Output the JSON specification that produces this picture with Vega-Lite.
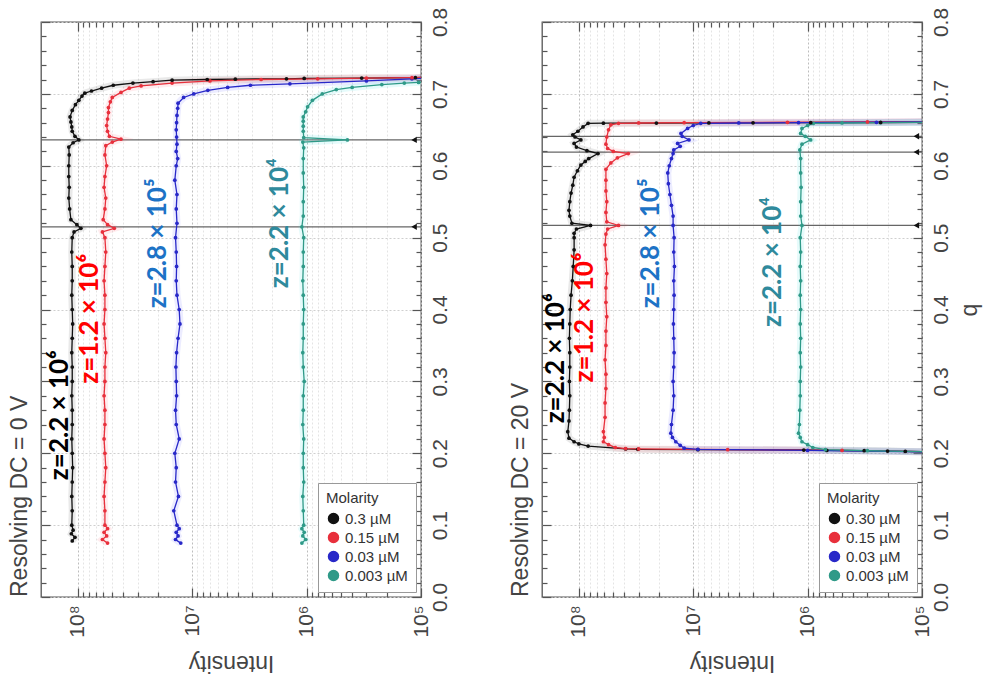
{
  "$schema": "https://vega.github.io/schema/vega-lite/v6.json",
  "background": "white",
  "padding": {"left": 8, "top": 6, "right": 4, "bottom": 2},
  "config": {
    "font": "Liberation Sans",
    "view": {"stroke": "#555", "strokeWidth": 1.3},
    "axis": {"labelColor": "#444", "titleColor": "#444", "titleFontWeight": "normal"},
    "title": {"color": "#444", "fontWeight": "normal", "fontSize": 23, "font": "Liberation Sans"}
  },
  "datasets": {
    "a": [
      {"m":"0.3 µM","q":0.078,"i":1.12e8},{"m":"0.3 µM","q":0.083,"i":1.06e8},{"m":"0.3 µM","q":0.088,"i":1.14e8},{"m":"0.3 µM","q":0.093,"i":1.10e8},{"m":"0.3 µM","q":0.1,"i":1.13e8},{"m":"0.3 µM","q":0.12,"i":1.12e8},{"m":"0.3 µM","q":0.14,"i":1.13e8},{"m":"0.3 µM","q":0.16,"i":1.12e8},{"m":"0.3 µM","q":0.18,"i":1.11e8},{"m":"0.3 µM","q":0.2,"i":1.12e8},{"m":"0.3 µM","q":0.22,"i":1.13e8},{"m":"0.3 µM","q":0.24,"i":1.12e8},{"m":"0.3 µM","q":0.26,"i":1.12e8},{"m":"0.3 µM","q":0.28,"i":1.13e8},{"m":"0.3 µM","q":0.3,"i":1.12e8},{"m":"0.3 µM","q":0.32,"i":1.12e8},{"m":"0.3 µM","q":0.34,"i":1.13e8},{"m":"0.3 µM","q":0.36,"i":1.12e8},{"m":"0.3 µM","q":0.38,"i":1.11e8},{"m":"0.3 µM","q":0.4,"i":1.12e8},{"m":"0.3 µM","q":0.42,"i":1.13e8},{"m":"0.3 µM","q":0.44,"i":1.12e8},{"m":"0.3 µM","q":0.46,"i":1.12e8},{"m":"0.3 µM","q":0.48,"i":1.13e8},{"m":"0.3 µM","q":0.5,"i":1.12e8},{"m":"0.3 µM","q":0.508,"i":1.08e8},{"m":"0.3 µM","q":0.513,"i":9.4e7},{"m":"0.3 µM","q":0.518,"i":1.02e8},{"m":"0.3 µM","q":0.525,"i":1.15e8},{"m":"0.3 µM","q":0.54,"i":1.18e8},{"m":"0.3 µM","q":0.555,"i":1.2e8},{"m":"0.3 µM","q":0.57,"i":1.19e8},{"m":"0.3 µM","q":0.585,"i":1.2e8},{"m":"0.3 µM","q":0.6,"i":1.2e8},{"m":"0.3 µM","q":0.615,"i":1.19e8},{"m":"0.3 µM","q":0.626,"i":1.2e8},{"m":"0.3 µM","q":0.632,"i":1.1e8},{"m":"0.3 µM","q":0.636,"i":9.8e7},{"m":"0.3 µM","q":0.641,"i":1.06e8},{"m":"0.3 µM","q":0.648,"i":1.12e8},{"m":"0.3 µM","q":0.654,"i":1.13e8},{"m":"0.3 µM","q":0.661,"i":1.15e8},{"m":"0.3 µM","q":0.668,"i":1.17e8},{"m":"0.3 µM","q":0.677,"i":1.12e8},{"m":"0.3 µM","q":0.685,"i":1.05e8},{"m":"0.3 µM","q":0.691,"i":9.8e7},{"m":"0.3 µM","q":0.697,"i":9.2e7},{"m":"0.3 µM","q":0.701,"i":8.7e7},{"m":"0.3 µM","q":0.704,"i":7.6e7},{"m":"0.3 µM","q":0.708,"i":6.2e7},{"m":"0.3 µM","q":0.712,"i":4.9e7},{"m":"0.3 µM","q":0.715,"i":3.3e7},{"m":"0.3 µM","q":0.717,"i":2.2e7},{"m":"0.3 µM","q":0.719,"i":1.5e7},{"m":"0.3 µM","q":0.72,"i":7.4e6},{"m":"0.3 µM","q":0.7205,"i":4.2e6},{"m":"0.3 µM","q":0.721,"i":1.5e6},{"m":"0.3 µM","q":0.7215,"i":1.05e6},{"m":"0.3 µM","q":0.722,"i":3.3e5},{"m":"0.3 µM","q":0.7225,"i":1.12e5},{"m":"0.3 µM","q":0.723,"i":9e4},

      {"m":"0.15 µM","q":0.075,"i":5.5e7},{"m":"0.15 µM","q":0.08,"i":6.1e7},{"m":"0.15 µM","q":0.085,"i":5.6e7},{"m":"0.15 µM","q":0.09,"i":5.9e7},{"m":"0.15 µM","q":0.095,"i":5.5e7},{"m":"0.15 µM","q":0.1,"i":5.8e7},{"m":"0.15 µM","q":0.12,"i":5.8e7},{"m":"0.15 µM","q":0.14,"i":5.9e7},{"m":"0.15 µM","q":0.16,"i":5.8e7},{"m":"0.15 µM","q":0.18,"i":5.7e7},{"m":"0.15 µM","q":0.2,"i":5.8e7},{"m":"0.15 µM","q":0.22,"i":5.9e7},{"m":"0.15 µM","q":0.24,"i":5.8e7},{"m":"0.15 µM","q":0.26,"i":5.8e7},{"m":"0.15 µM","q":0.28,"i":5.9e7},{"m":"0.15 µM","q":0.3,"i":5.8e7},{"m":"0.15 µM","q":0.32,"i":5.8e7},{"m":"0.15 µM","q":0.34,"i":5.7e7},{"m":"0.15 µM","q":0.36,"i":5.8e7},{"m":"0.15 µM","q":0.38,"i":5.9e7},{"m":"0.15 µM","q":0.4,"i":5.8e7},{"m":"0.15 µM","q":0.42,"i":5.8e7},{"m":"0.15 µM","q":0.44,"i":5.9e7},{"m":"0.15 µM","q":0.46,"i":5.8e7},{"m":"0.15 µM","q":0.48,"i":5.7e7},{"m":"0.15 µM","q":0.5,"i":5.8e7},{"m":"0.15 µM","q":0.508,"i":6.1e7},{"m":"0.15 µM","q":0.513,"i":4.8e7},{"m":"0.15 µM","q":0.518,"i":5.5e7},{"m":"0.15 µM","q":0.525,"i":6.0e7},{"m":"0.15 µM","q":0.54,"i":5.8e7},{"m":"0.15 µM","q":0.555,"i":5.7e7},{"m":"0.15 µM","q":0.57,"i":5.9e7},{"m":"0.15 µM","q":0.585,"i":5.8e7},{"m":"0.15 µM","q":0.6,"i":5.6e7},{"m":"0.15 µM","q":0.615,"i":5.8e7},{"m":"0.15 µM","q":0.628,"i":5.7e7},{"m":"0.15 µM","q":0.633,"i":5.0e7},{"m":"0.15 µM","q":0.637,"i":4.2e7},{"m":"0.15 µM","q":0.641,"i":5.3e7},{"m":"0.15 µM","q":0.648,"i":5.5e7},{"m":"0.15 µM","q":0.656,"i":5.6e7},{"m":"0.15 µM","q":0.665,"i":5.5e7},{"m":"0.15 µM","q":0.674,"i":5.4e7},{"m":"0.15 µM","q":0.681,"i":5.4e7},{"m":"0.15 µM","q":0.689,"i":5.2e7},{"m":"0.15 µM","q":0.695,"i":5.0e7},{"m":"0.15 µM","q":0.702,"i":4.2e7},{"m":"0.15 µM","q":0.708,"i":3.55e7},{"m":"0.15 µM","q":0.711,"i":2.8e7},{"m":"0.15 µM","q":0.715,"i":1.5e7},{"m":"0.15 µM","q":0.718,"i":7e6},{"m":"0.15 µM","q":0.72,"i":2.5e6},{"m":"0.15 µM","q":0.721,"i":8e5},{"m":"0.15 µM","q":0.722,"i":3e5},{"m":"0.15 µM","q":0.7225,"i":1.2e5},{"m":"0.15 µM","q":0.723,"i":9e4},

      {"m":"0.03 µM","q":0.075,"i":1.26e7},{"m":"0.03 µM","q":0.08,"i":1.4e7},{"m":"0.03 µM","q":0.085,"i":1.33e7},{"m":"0.03 µM","q":0.09,"i":1.38e7},{"m":"0.03 µM","q":0.095,"i":1.3e7},{"m":"0.03 µM","q":0.1,"i":1.36e7},{"m":"0.03 µM","q":0.12,"i":1.45e7},{"m":"0.03 µM","q":0.14,"i":1.32e7},{"m":"0.03 µM","q":0.16,"i":1.4e7},{"m":"0.03 µM","q":0.18,"i":1.38e7},{"m":"0.03 µM","q":0.2,"i":1.42e7},{"m":"0.03 µM","q":0.22,"i":1.3e7},{"m":"0.03 µM","q":0.24,"i":1.38e7},{"m":"0.03 µM","q":0.26,"i":1.4e7},{"m":"0.03 µM","q":0.28,"i":1.37e7},{"m":"0.03 µM","q":0.3,"i":1.38e7},{"m":"0.03 µM","q":0.32,"i":1.39e7},{"m":"0.03 µM","q":0.34,"i":1.37e7},{"m":"0.03 µM","q":0.36,"i":1.33e7},{"m":"0.03 µM","q":0.38,"i":1.28e7},{"m":"0.03 µM","q":0.4,"i":1.3e7},{"m":"0.03 µM","q":0.42,"i":1.36e7},{"m":"0.03 µM","q":0.44,"i":1.38e7},{"m":"0.03 µM","q":0.46,"i":1.37e7},{"m":"0.03 µM","q":0.48,"i":1.38e7},{"m":"0.03 µM","q":0.5,"i":1.4e7},{"m":"0.03 µM","q":0.52,"i":1.36e7},{"m":"0.03 µM","q":0.54,"i":1.38e7},{"m":"0.03 µM","q":0.56,"i":1.36e7},{"m":"0.03 µM","q":0.58,"i":1.42e7},{"m":"0.03 µM","q":0.6,"i":1.38e7},{"m":"0.03 µM","q":0.61,"i":1.34e7},{"m":"0.03 µM","q":0.62,"i":1.38e7},{"m":"0.03 µM","q":0.63,"i":1.36e7},{"m":"0.03 µM","q":0.64,"i":1.37e7},{"m":"0.03 µM","q":0.65,"i":1.38e7},{"m":"0.03 µM","q":0.66,"i":1.37e7},{"m":"0.03 µM","q":0.67,"i":1.36e7},{"m":"0.03 µM","q":0.68,"i":1.34e7},{"m":"0.03 µM","q":0.687,"i":1.33e7},{"m":"0.03 µM","q":0.695,"i":1.19e7},{"m":"0.03 µM","q":0.7,"i":9.7e6},{"m":"0.03 µM","q":0.705,"i":7.3e6},{"m":"0.03 µM","q":0.709,"i":4.9e6},{"m":"0.03 µM","q":0.712,"i":3.1e6},{"m":"0.03 µM","q":0.714,"i":1.4e6},{"m":"0.03 µM","q":0.718,"i":3.0e5},{"m":"0.03 µM","q":0.721,"i":1.2e5},{"m":"0.03 µM","q":0.722,"i":9e4},

      {"m":"0.003 µM","q":0.075,"i":1.1e6},{"m":"0.003 µM","q":0.08,"i":1.02e6},{"m":"0.003 µM","q":0.085,"i":1.08e6},{"m":"0.003 µM","q":0.09,"i":1.05e6},{"m":"0.003 µM","q":0.095,"i":1.1e6},{"m":"0.003 µM","q":0.1,"i":1.06e6},{"m":"0.003 µM","q":0.12,"i":1.07e6},{"m":"0.003 µM","q":0.14,"i":1.08e6},{"m":"0.003 µM","q":0.16,"i":1.06e6},{"m":"0.003 µM","q":0.18,"i":1.07e6},{"m":"0.003 µM","q":0.2,"i":1.07e6},{"m":"0.003 µM","q":0.22,"i":1.06e6},{"m":"0.003 µM","q":0.24,"i":1.08e6},{"m":"0.003 µM","q":0.26,"i":1.07e6},{"m":"0.003 µM","q":0.28,"i":1.07e6},{"m":"0.003 µM","q":0.3,"i":1.05e6},{"m":"0.003 µM","q":0.32,"i":1.07e6},{"m":"0.003 µM","q":0.34,"i":1.08e6},{"m":"0.003 µM","q":0.36,"i":1.07e6},{"m":"0.003 µM","q":0.38,"i":1.07e6},{"m":"0.003 µM","q":0.4,"i":1.06e6},{"m":"0.003 µM","q":0.42,"i":1.07e6},{"m":"0.003 µM","q":0.44,"i":1.08e6},{"m":"0.003 µM","q":0.46,"i":1.07e6},{"m":"0.003 µM","q":0.48,"i":1.07e6},{"m":"0.003 µM","q":0.5,"i":1.06e6},{"m":"0.003 µM","q":0.515,"i":1.1e6},{"m":"0.003 µM","q":0.53,"i":1.07e6},{"m":"0.003 µM","q":0.55,"i":1.07e6},{"m":"0.003 µM","q":0.57,"i":1.06e6},{"m":"0.003 µM","q":0.59,"i":1.07e6},{"m":"0.003 µM","q":0.61,"i":1.07e6},{"m":"0.003 µM","q":0.625,"i":1.06e6},{"m":"0.003 µM","q":0.633,"i":1.08e6},{"m":"0.003 µM","q":0.636,"i":4.4e5},{"m":"0.003 µM","q":0.639,"i":1.06e6},{"m":"0.003 µM","q":0.648,"i":1.07e6},{"m":"0.003 µM","q":0.655,"i":1.07e6},{"m":"0.003 µM","q":0.662,"i":1.07e6},{"m":"0.003 µM","q":0.668,"i":1.07e6},{"m":"0.003 µM","q":0.675,"i":1.02e6},{"m":"0.003 µM","q":0.682,"i":9.8e5},{"m":"0.003 µM","q":0.691,"i":8.9e5},{"m":"0.003 µM","q":0.7,"i":7.3e5},{"m":"0.003 µM","q":0.706,"i":5.5e5},{"m":"0.003 µM","q":0.709,"i":4.0e5},{"m":"0.003 µM","q":0.713,"i":2.2e5},{"m":"0.003 µM","q":0.715,"i":1.4e5},{"m":"0.003 µM","q":0.716,"i":1.05e5},{"m":"0.003 µM","q":0.7165,"i":9e4}
    ],
    "b": [
      {"m":"0.30 µM","q":0.202,"i":9e4},{"m":"0.30 µM","q":0.2025,"i":1.4e5},{"m":"0.30 µM","q":0.203,"i":2.0e5},{"m":"0.30 µM","q":0.2035,"i":3.2e5},{"m":"0.30 µM","q":0.204,"i":6.8e5},{"m":"0.30 µM","q":0.2045,"i":1.08e6},{"m":"0.30 µM","q":0.205,"i":9.1e6},{"m":"0.30 µM","q":0.2055,"i":3.05e7},{"m":"0.30 µM","q":0.206,"i":3.9e7},{"m":"0.30 µM","q":0.21,"i":8.3e7},{"m":"0.30 µM","q":0.213,"i":1.0e8},{"m":"0.30 µM","q":0.216,"i":1.1e8},{"m":"0.30 µM","q":0.221,"i":1.22e8},{"m":"0.30 µM","q":0.23,"i":1.25e8},{"m":"0.30 µM","q":0.245,"i":1.22e8},{"m":"0.30 µM","q":0.26,"i":1.21e8},{"m":"0.30 µM","q":0.28,"i":1.2e8},{"m":"0.30 µM","q":0.3,"i":1.21e8},{"m":"0.30 µM","q":0.32,"i":1.2e8},{"m":"0.30 µM","q":0.34,"i":1.2e8},{"m":"0.30 µM","q":0.36,"i":1.21e8},{"m":"0.30 µM","q":0.38,"i":1.2e8},{"m":"0.30 µM","q":0.4,"i":1.19e8},{"m":"0.30 µM","q":0.42,"i":1.17e8},{"m":"0.30 µM","q":0.44,"i":1.14e8},{"m":"0.30 µM","q":0.46,"i":1.12e8},{"m":"0.30 µM","q":0.483,"i":1.1e8},{"m":"0.30 µM","q":0.5,"i":1.1e8},{"m":"0.30 µM","q":0.506,"i":1.1e8},{"m":"0.30 µM","q":0.512,"i":1.05e8},{"m":"0.30 µM","q":0.517,"i":7.9e7},{"m":"0.30 µM","q":0.52,"i":1.15e8},{"m":"0.30 µM","q":0.53,"i":1.2e8},{"m":"0.30 µM","q":0.538,"i":1.22e8},{"m":"0.30 µM","q":0.55,"i":1.2e8},{"m":"0.30 µM","q":0.562,"i":1.17e8},{"m":"0.30 µM","q":0.573,"i":1.13e8},{"m":"0.30 µM","q":0.584,"i":1.1e8},{"m":"0.30 µM","q":0.593,"i":1.03e8},{"m":"0.30 µM","q":0.601,"i":9.6e7},{"m":"0.30 µM","q":0.606,"i":8.8e7},{"m":"0.30 µM","q":0.61,"i":8.2e7},{"m":"0.30 µM","q":0.617,"i":6.8e7},{"m":"0.30 µM","q":0.621,"i":8.5e7},{"m":"0.30 µM","q":0.626,"i":1.05e8},{"m":"0.30 µM","q":0.631,"i":1.1e8},{"m":"0.30 µM","q":0.636,"i":9.6e7},{"m":"0.30 µM","q":0.64,"i":1.08e8},{"m":"0.30 µM","q":0.643,"i":1.13e8},{"m":"0.30 µM","q":0.648,"i":1.02e8},{"m":"0.30 µM","q":0.654,"i":9.2e7},{"m":"0.30 µM","q":0.659,"i":8.3e7},{"m":"0.30 µM","q":0.6592,"i":6.1e7},{"m":"0.30 µM","q":0.6594,"i":2.1e7},{"m":"0.30 µM","q":0.6596,"i":7.3e6},{"m":"0.30 µM","q":0.6598,"i":3.0e6},{"m":"0.30 µM","q":0.66,"i":9.4e5},{"m":"0.30 µM","q":0.6602,"i":2.3e5},{"m":"0.30 µM","q":0.6604,"i":9e4},

      {"m":"0.15 µM","q":0.202,"i":9e4},{"m":"0.15 µM","q":0.204,"i":5e5},{"m":"0.15 µM","q":0.205,"i":5e6},{"m":"0.15 µM","q":0.206,"i":3.0e7},{"m":"0.15 µM","q":0.2065,"i":3.9e7},{"m":"0.15 µM","q":0.208,"i":4.8e7},{"m":"0.15 µM","q":0.212,"i":5.5e7},{"m":"0.15 µM","q":0.216,"i":6.1e7},{"m":"0.15 µM","q":0.222,"i":6.0e7},{"m":"0.15 µM","q":0.23,"i":6.1e7},{"m":"0.15 µM","q":0.25,"i":5.9e7},{"m":"0.15 µM","q":0.27,"i":5.9e7},{"m":"0.15 µM","q":0.29,"i":5.8e7},{"m":"0.15 µM","q":0.31,"i":5.8e7},{"m":"0.15 µM","q":0.33,"i":5.9e7},{"m":"0.15 µM","q":0.35,"i":5.8e7},{"m":"0.15 µM","q":0.37,"i":5.8e7},{"m":"0.15 µM","q":0.39,"i":5.7e7},{"m":"0.15 µM","q":0.41,"i":5.8e7},{"m":"0.15 µM","q":0.43,"i":5.8e7},{"m":"0.15 µM","q":0.45,"i":5.7e7},{"m":"0.15 µM","q":0.47,"i":5.8e7},{"m":"0.15 µM","q":0.49,"i":5.9e7},{"m":"0.15 µM","q":0.505,"i":5.8e7},{"m":"0.15 µM","q":0.512,"i":5.6e7},{"m":"0.15 µM","q":0.517,"i":4.5e7},{"m":"0.15 µM","q":0.522,"i":5.7e7},{"m":"0.15 µM","q":0.535,"i":5.8e7},{"m":"0.15 µM","q":0.55,"i":5.7e7},{"m":"0.15 µM","q":0.565,"i":5.8e7},{"m":"0.15 µM","q":0.58,"i":5.8e7},{"m":"0.15 µM","q":0.595,"i":5.8e7},{"m":"0.15 µM","q":0.604,"i":5.25e7},{"m":"0.15 µM","q":0.611,"i":4.6e7},{"m":"0.15 µM","q":0.617,"i":3.7e7},{"m":"0.15 µM","q":0.62,"i":5.0e7},{"m":"0.15 µM","q":0.624,"i":5.6e7},{"m":"0.15 µM","q":0.63,"i":5.8e7},{"m":"0.15 µM","q":0.64,"i":5.7e7},{"m":"0.15 µM","q":0.65,"i":5.5e7},{"m":"0.15 µM","q":0.657,"i":5.25e7},{"m":"0.15 µM","q":0.659,"i":4.5e7},{"m":"0.15 µM","q":0.6595,"i":3.0e7},{"m":"0.15 µM","q":0.66,"i":1.2e7},{"m":"0.15 µM","q":0.6605,"i":1.5e6},{"m":"0.15 µM","q":0.661,"i":3e5},{"m":"0.15 µM","q":0.6615,"i":9e4},

      {"m":"0.03 µM","q":0.202,"i":9e4},{"m":"0.03 µM","q":0.204,"i":1e6},{"m":"0.03 µM","q":0.2055,"i":9.1e6},{"m":"0.03 µM","q":0.207,"i":1.2e7},{"m":"0.03 µM","q":0.211,"i":1.3e7},{"m":"0.03 µM","q":0.216,"i":1.42e7},{"m":"0.03 µM","q":0.222,"i":1.52e7},{"m":"0.03 µM","q":0.228,"i":1.57e7},{"m":"0.03 µM","q":0.24,"i":1.55e7},{"m":"0.03 µM","q":0.26,"i":1.5e7},{"m":"0.03 µM","q":0.28,"i":1.48e7},{"m":"0.03 µM","q":0.3,"i":1.5e7},{"m":"0.03 µM","q":0.32,"i":1.48e7},{"m":"0.03 µM","q":0.34,"i":1.47e7},{"m":"0.03 µM","q":0.36,"i":1.48e7},{"m":"0.03 µM","q":0.38,"i":1.49e7},{"m":"0.03 µM","q":0.4,"i":1.48e7},{"m":"0.03 µM","q":0.42,"i":1.47e7},{"m":"0.03 µM","q":0.44,"i":1.48e7},{"m":"0.03 µM","q":0.46,"i":1.46e7},{"m":"0.03 µM","q":0.48,"i":1.48e7},{"m":"0.03 µM","q":0.5,"i":1.47e7},{"m":"0.03 µM","q":0.517,"i":1.5e7},{"m":"0.03 µM","q":0.53,"i":1.5e7},{"m":"0.03 µM","q":0.545,"i":1.55e7},{"m":"0.03 µM","q":0.56,"i":1.6e7},{"m":"0.03 µM","q":0.575,"i":1.65e7},{"m":"0.03 µM","q":0.59,"i":1.67e7},{"m":"0.03 µM","q":0.6,"i":1.62e7},{"m":"0.03 µM","q":0.61,"i":1.55e7},{"m":"0.03 µM","q":0.617,"i":1.5e7},{"m":"0.03 µM","q":0.622,"i":1.48e7},{"m":"0.03 µM","q":0.627,"i":1.3e7},{"m":"0.03 µM","q":0.631,"i":1.37e7},{"m":"0.03 µM","q":0.636,"i":1.09e7},{"m":"0.03 µM","q":0.641,"i":1.25e7},{"m":"0.03 µM","q":0.645,"i":1.28e7},{"m":"0.03 µM","q":0.652,"i":1.12e7},{"m":"0.03 µM","q":0.656,"i":1.0e7},{"m":"0.03 µM","q":0.659,"i":8.6e6},{"m":"0.03 µM","q":0.6595,"i":4e6},{"m":"0.03 µM","q":0.66,"i":1.2e6},{"m":"0.03 µM","q":0.6605,"i":2.5e5},{"m":"0.03 µM","q":0.661,"i":9e4},

      {"m":"0.003 µM","q":0.202,"i":9e4},{"m":"0.003 µM","q":0.2035,"i":3e5},{"m":"0.003 µM","q":0.205,"i":7e5},{"m":"0.003 µM","q":0.208,"i":9e5},{"m":"0.003 µM","q":0.212,"i":1.0e6},{"m":"0.003 µM","q":0.216,"i":1.12e6},{"m":"0.003 µM","q":0.222,"i":1.16e6},{"m":"0.003 µM","q":0.228,"i":1.2e6},{"m":"0.003 µM","q":0.24,"i":1.18e6},{"m":"0.003 µM","q":0.26,"i":1.17e6},{"m":"0.003 µM","q":0.28,"i":1.16e6},{"m":"0.003 µM","q":0.3,"i":1.16e6},{"m":"0.003 µM","q":0.32,"i":1.15e6},{"m":"0.003 µM","q":0.34,"i":1.16e6},{"m":"0.003 µM","q":0.36,"i":1.15e6},{"m":"0.003 µM","q":0.38,"i":1.16e6},{"m":"0.003 µM","q":0.4,"i":1.15e6},{"m":"0.003 µM","q":0.42,"i":1.16e6},{"m":"0.003 µM","q":0.44,"i":1.15e6},{"m":"0.003 µM","q":0.46,"i":1.16e6},{"m":"0.003 µM","q":0.48,"i":1.15e6},{"m":"0.003 µM","q":0.5,"i":1.16e6},{"m":"0.003 µM","q":0.517,"i":1.12e6},{"m":"0.003 µM","q":0.53,"i":1.15e6},{"m":"0.003 µM","q":0.55,"i":1.15e6},{"m":"0.003 µM","q":0.57,"i":1.14e6},{"m":"0.003 µM","q":0.59,"i":1.15e6},{"m":"0.003 µM","q":0.61,"i":1.15e6},{"m":"0.003 µM","q":0.622,"i":1.17e6},{"m":"0.003 µM","q":0.63,"i":1.12e6},{"m":"0.003 µM","q":0.636,"i":9.4e5},{"m":"0.003 µM","q":0.641,"i":1.05e6},{"m":"0.003 µM","q":0.645,"i":1.15e6},{"m":"0.003 µM","q":0.652,"i":1.12e6},{"m":"0.003 µM","q":0.656,"i":1.0e6},{"m":"0.003 µM","q":0.659,"i":8.9e5},{"m":"0.003 µM","q":0.6595,"i":5e5},{"m":"0.003 µM","q":0.66,"i":2.3e5},{"m":"0.003 µM","q":0.6605,"i":9e4}
    ]
  },
  "spacing": 58,
  "resolve": {"scale": {"color": "independent"}},
  "hconcat": [
    {
      "width": 380,
      "height": 575,
      "title": {"text": "Resolving DC = 0 V", "orient": "left", "anchor": "start", "frame": "group", "offset": 8},
      "resolve": {"axis": {"x": "independent", "y": "independent"}, "scale": {"color": "independent"}},
      "layer": [
        {
          "data": {"values": [{"q": 0.636}, {"q": 0.515}]},
          "mark": {"type": "rule", "color": "#666", "strokeWidth": 1.3},
          "encoding": {"y": {"field": "q", "type": "quantitative", "scale": {"domain": [0, 0.8], "nice": false}, "axis": null}}
        },
        {
          "data": {"name": "a"},
          "mark": {"type": "line", "strokeWidth": 7, "opacity": 0.13, "clip": true},
          "encoding": {
            "x": {"field": "i", "type": "quantitative", "scale": {"type": "log", "domain": [100000, 210000000], "reverse": true, "nice": false},
              "axis": {"orient": "bottom", "values": [1e5,2e5,3e5,4e5,5e5,6e5,7e5,8e5,9e5,1e6,2e6,3e6,4e6,5e6,6e6,7e6,8e6,9e6,1e7,2e7,3e7,4e7,5e7,6e7,7e7,8e7,9e7,1e8],
                "labels": false, "domain": false, "title": null, "tickColor": "#555", "tickWidth": 1.2,
                "tickSize": {"condition": {"test": "abs(log(datum.value)/LN10 - round(log(datum.value)/LN10)) < 0.01", "value": -9}, "value": -5},
                "grid": true, "gridDash": [2, 2],
                "gridColor": {"condition": {"test": "abs(log(datum.value)/LN10 - round(log(datum.value)/LN10)) < 0.01", "value": "#bdbdbd"}, "value": "#e4e4e4"}}},
            "y": {"field": "q", "type": "quantitative", "scale": {"domain": [0, 0.8], "nice": false},
              "axis": {"orient": "right", "values": [0,0.02,0.04,0.06,0.08,0.1,0.12,0.14,0.16,0.18,0.2,0.22,0.24,0.26,0.28,0.3,0.32,0.34,0.36,0.38,0.4,0.42,0.44,0.46,0.48,0.5,0.52,0.54,0.56,0.58,0.6,0.62,0.64,0.66,0.68,0.7,0.72,0.74,0.76,0.78,0.8],
                "labels": false, "domain": false, "grid": false, "title": null, "tickColor": "#555", "tickWidth": 1.2,
                "tickSize": {"condition": {"test": "abs(datum.value*10 - round(datum.value*10)) < 0.01", "value": -9}, "value": -5}}},
            "color": {"field": "m", "type": "nominal", "scale": {"domain": ["0.3 µM", "0.15 µM", "0.03 µM", "0.003 µM"], "range": ["#555555", "#ff6f7f", "#7070ff", "#40e0e0"]}, "legend": null},
            "order": {"field": "q", "type": "quantitative"}
          }
        },
        {
          "data": {"name": "a"},
          "mark": {"type": "line", "strokeWidth": 1.3, "clip": true, "point": {"filled": true, "size": 14}},
          "encoding": {
            "x": {"field": "i", "type": "quantitative", "scale": {"type": "log", "domain": [100000, 210000000], "reverse": true, "nice": false},
              "axis": {"orient": "bottom", "values": [1e5, 1e6, 1e7, 1e8], "labelExpr": "datum.value >= 5e7 ? '10⁸' : datum.value >= 5e6 ? '10⁷' : datum.value >= 5e5 ? '10⁶' : '10⁵'",
                "labelAngle": -90, "labelFontSize": 21, "labelPadding": 8, "ticks": false, "grid": false, "domain": false,
                "title": "Intensity", "titleAngle": 180, "titleFontSize": 23, "titlePadding": 36}},
            "y": {"field": "q", "type": "quantitative", "scale": {"domain": [0, 0.8], "nice": false},
              "axis": {"orient": "right", "values": [0, 0.1, 0.2, 0.3, 0.4, 0.5, 0.6, 0.7, 0.8], "format": ".1f", "labelAngle": -90, "labelFontSize": 21, "labelPadding": 8,
                "ticks": false, "domain": false, "grid": true, "gridColor": "#cfcfcf", "gridDash": [2, 2], "title": null}},
            "color": {"field": "m", "type": "nominal", "scale": {"domain": ["0.3 µM", "0.15 µM", "0.03 µM", "0.003 µM"], "range": ["#111111", "#e8303c", "#2828c8", "#2f9a88"]},
              "legend": {"title": "Molarity", "orient": "bottom-right", "offset": 5, "fillColor": "white", "strokeColor": "#999", "padding": 8, "titleFontSize": 15, "titleFontWeight": "normal", "labelFontSize": 15, "titleColor": "#333", "labelColor": "#333"}},
            "order": {"field": "q", "type": "quantitative"}
          }
        },
        {
          "data": {"values": [{"q": 0.636, "i": 115000}, {"q": 0.515, "i": 115000}]},
          "mark": {"type": "point", "shape": "triangle-left", "filled": true, "size": 40, "color": "#111", "opacity": 1},
          "encoding": {
            "x": {"field": "i", "type": "quantitative", "scale": {"type": "log", "domain": [100000, 210000000], "reverse": true, "nice": false},
              "axis": {"orient": "top", "values": [1e5,2e5,3e5,4e5,5e5,6e5,7e5,8e5,9e5,1e6,2e6,3e6,4e6,5e6,6e6,7e6,8e6,9e6,1e7,2e7,3e7,4e7,5e7,6e7,7e7,8e7,9e7,1e8],
                "labels": false, "domain": false, "grid": false, "title": null, "tickColor": "#555", "tickWidth": 1.2,
                "tickSize": {"condition": {"test": "abs(log(datum.value)/LN10 - round(log(datum.value)/LN10)) < 0.01", "value": -9}, "value": -5}}},
            "y": {"field": "q", "type": "quantitative", "scale": {"domain": [0, 0.8], "nice": false},
              "axis": {"orient": "left", "values": [0,0.02,0.04,0.06,0.08,0.1,0.12,0.14,0.16,0.18,0.2,0.22,0.24,0.26,0.28,0.3,0.32,0.34,0.36,0.38,0.4,0.42,0.44,0.46,0.48,0.5,0.52,0.54,0.56,0.58,0.6,0.62,0.64,0.66,0.68,0.7,0.72,0.74,0.76,0.78,0.8],
                "labels": false, "domain": false, "grid": false, "title": null, "tickColor": "#555", "tickWidth": 1.2,
                "tickSize": {"condition": {"test": "abs(datum.value*10 - round(datum.value*10)) < 0.01", "value": -9}, "value": -5}}}
          }
        },
        {
          "data": {"values": [
            {"m": "0.3 µM", "t": "z=2.2 × 10⁶", "q": 0.253, "i": 143000000},
            {"m": "0.15 µM", "t": "z=1.2 × 10⁶", "q": 0.387, "i": 79000000},
            {"m": "0.03 µM", "t": "z=2.8 × 10⁵", "q": 0.492, "i": 20000000},
            {"m": "0.003 µM", "t": "z=2.2 × 10⁴", "q": 0.52, "i": 1710000}
          ]},
          "mark": {"type": "text", "angle": -90, "font": "Lato", "fontWeight": "bold", "fontSize": 26, "align": "center", "baseline": "middle"},
          "encoding": {
            "x": {"field": "i", "type": "quantitative", "scale": {"type": "log", "domain": [100000, 210000000], "reverse": true, "nice": false}, "axis": null},
            "y": {"field": "q", "type": "quantitative", "scale": {"domain": [0, 0.8], "nice": false}, "axis": null},
            "text": {"field": "t"},
            "color": {"field": "m", "type": "nominal", "scale": {"domain": ["0.3 µM", "0.15 µM", "0.03 µM", "0.003 µM"], "range": ["#000000", "#ff0000", "#1d73c6", "#2f8a9c"]}, "legend": null}
          }
        }
      ]
    },
    {
      "width": 380,
      "height": 575,
      "title": {"text": "Resolving DC = 20 V", "orient": "left", "anchor": "start", "frame": "group", "offset": 8},
      "resolve": {"axis": {"x": "independent", "y": "independent"}, "scale": {"color": "independent"}},
      "layer": [
        {
          "data": {"values": [{"q": 0.641}, {"q": 0.619}, {"q": 0.517}]},
          "mark": {"type": "rule", "color": "#666", "strokeWidth": 1.3},
          "encoding": {"y": {"field": "q", "type": "quantitative", "scale": {"domain": [0, 0.8], "nice": false}, "axis": null}}
        },
        {
          "data": {"name": "b"},
          "mark": {"type": "line", "strokeWidth": 7, "opacity": 0.13, "clip": true},
          "encoding": {
            "x": {"field": "i", "type": "quantitative", "scale": {"type": "log", "domain": [100000, 210000000], "reverse": true, "nice": false},
              "axis": {"orient": "bottom", "values": [1e5,2e5,3e5,4e5,5e5,6e5,7e5,8e5,9e5,1e6,2e6,3e6,4e6,5e6,6e6,7e6,8e6,9e6,1e7,2e7,3e7,4e7,5e7,6e7,7e7,8e7,9e7,1e8],
                "labels": false, "domain": false, "title": null, "tickColor": "#555", "tickWidth": 1.2,
                "tickSize": {"condition": {"test": "abs(log(datum.value)/LN10 - round(log(datum.value)/LN10)) < 0.01", "value": -9}, "value": -5},
                "grid": true, "gridDash": [2, 2],
                "gridColor": {"condition": {"test": "abs(log(datum.value)/LN10 - round(log(datum.value)/LN10)) < 0.01", "value": "#bdbdbd"}, "value": "#e4e4e4"}}},
            "y": {"field": "q", "type": "quantitative", "scale": {"domain": [0, 0.8], "nice": false},
              "axis": {"orient": "right", "values": [0,0.02,0.04,0.06,0.08,0.1,0.12,0.14,0.16,0.18,0.2,0.22,0.24,0.26,0.28,0.3,0.32,0.34,0.36,0.38,0.4,0.42,0.44,0.46,0.48,0.5,0.52,0.54,0.56,0.58,0.6,0.62,0.64,0.66,0.68,0.7,0.72,0.74,0.76,0.78,0.8],
                "labels": false, "domain": false, "grid": false, "title": null, "tickColor": "#555", "tickWidth": 1.2,
                "tickSize": {"condition": {"test": "abs(datum.value*10 - round(datum.value*10)) < 0.01", "value": -9}, "value": -5}}},
            "color": {"field": "m", "type": "nominal", "scale": {"domain": ["0.30 µM", "0.15 µM", "0.03 µM", "0.003 µM"], "range": ["#555555", "#ff6f7f", "#7070ff", "#40e0e0"]}, "legend": null},
            "order": {"field": "q", "type": "quantitative"}
          }
        },
        {
          "data": {"name": "b"},
          "mark": {"type": "line", "strokeWidth": 1.3, "clip": true, "point": {"filled": true, "size": 14}},
          "encoding": {
            "x": {"field": "i", "type": "quantitative", "scale": {"type": "log", "domain": [100000, 210000000], "reverse": true, "nice": false},
              "axis": {"orient": "bottom", "values": [1e5, 1e6, 1e7, 1e8], "labelExpr": "datum.value >= 5e7 ? '10⁸' : datum.value >= 5e6 ? '10⁷' : datum.value >= 5e5 ? '10⁶' : '10⁵'",
                "labelAngle": -90, "labelFontSize": 21, "labelPadding": 8, "ticks": false, "grid": false, "domain": false,
                "title": "Intensity", "titleAngle": 180, "titleFontSize": 23, "titlePadding": 36}},
            "y": {"field": "q", "type": "quantitative", "scale": {"domain": [0, 0.8], "nice": false},
              "axis": {"orient": "right", "values": [0, 0.1, 0.2, 0.3, 0.4, 0.5, 0.6, 0.7, 0.8], "format": ".1f", "labelAngle": -90, "labelFontSize": 21, "labelPadding": 8,
                "ticks": false, "domain": false, "grid": true, "gridColor": "#cfcfcf", "gridDash": [2, 2], "title": "q", "titleAngle": -90, "titleFontSize": 23, "titlePadding": 30}},
            "color": {"field": "m", "type": "nominal", "scale": {"domain": ["0.30 µM", "0.15 µM", "0.03 µM", "0.003 µM"], "range": ["#111111", "#e8303c", "#2828c8", "#2f9a88"]},
              "legend": {"title": "Molarity", "orient": "bottom-right", "offset": 5, "fillColor": "white", "strokeColor": "#999", "padding": 8, "titleFontSize": 15, "titleFontWeight": "normal", "labelFontSize": 15, "titleColor": "#333", "labelColor": "#333"}},
            "order": {"field": "q", "type": "quantitative"}
          }
        },
        {
          "data": {"values": [{"q": 0.641, "i": 112000}, {"q": 0.619, "i": 112000}, {"q": 0.517, "i": 112000}]},
          "mark": {"type": "point", "shape": "triangle-left", "filled": true, "size": 40, "color": "#111", "opacity": 1},
          "encoding": {
            "x": {"field": "i", "type": "quantitative", "scale": {"type": "log", "domain": [100000, 210000000], "reverse": true, "nice": false},
              "axis": {"orient": "top", "values": [1e5,2e5,3e5,4e5,5e5,6e5,7e5,8e5,9e5,1e6,2e6,3e6,4e6,5e6,6e6,7e6,8e6,9e6,1e7,2e7,3e7,4e7,5e7,6e7,7e7,8e7,9e7,1e8],
                "labels": false, "domain": false, "grid": false, "title": null, "tickColor": "#555", "tickWidth": 1.2,
                "tickSize": {"condition": {"test": "abs(log(datum.value)/LN10 - round(log(datum.value)/LN10)) < 0.01", "value": -9}, "value": -5}}},
            "y": {"field": "q", "type": "quantitative", "scale": {"domain": [0, 0.8], "nice": false},
              "axis": {"orient": "left", "values": [0,0.02,0.04,0.06,0.08,0.1,0.12,0.14,0.16,0.18,0.2,0.22,0.24,0.26,0.28,0.3,0.32,0.34,0.36,0.38,0.4,0.42,0.44,0.46,0.48,0.5,0.52,0.54,0.56,0.58,0.6,0.62,0.64,0.66,0.68,0.7,0.72,0.74,0.76,0.78,0.8],
                "labels": false, "domain": false, "grid": false, "title": null, "tickColor": "#555", "tickWidth": 1.2,
                "tickSize": {"condition": {"test": "abs(datum.value*10 - round(datum.value*10)) < 0.01", "value": -9}, "value": -5}}}
          }
        },
        {
          "data": {"values": [
            {"m": "0.30 µM", "t": "z=2.2 × 10⁶", "q": 0.332, "i": 159000000},
            {"m": "0.15 µM", "t": "z=1.2 × 10⁶", "q": 0.389, "i": 89000000},
            {"m": "0.03 µM", "t": "z=2.8 × 10⁵", "q": 0.492, "i": 23500000},
            {"m": "0.003 µM", "t": "z=2.2 × 10⁴", "q": 0.466, "i": 2000000}
          ]},
          "mark": {"type": "text", "angle": -90, "font": "Lato", "fontWeight": "bold", "fontSize": 26, "align": "center", "baseline": "middle"},
          "encoding": {
            "x": {"field": "i", "type": "quantitative", "scale": {"type": "log", "domain": [100000, 210000000], "reverse": true, "nice": false}, "axis": null},
            "y": {"field": "q", "type": "quantitative", "scale": {"domain": [0, 0.8], "nice": false}, "axis": null},
            "text": {"field": "t"},
            "color": {"field": "m", "type": "nominal", "scale": {"domain": ["0.30 µM", "0.15 µM", "0.03 µM", "0.003 µM"], "range": ["#000000", "#ff0000", "#1d73c6", "#2f8a9c"]}, "legend": null}
          }
        }
      ]
    }
  ]
}
